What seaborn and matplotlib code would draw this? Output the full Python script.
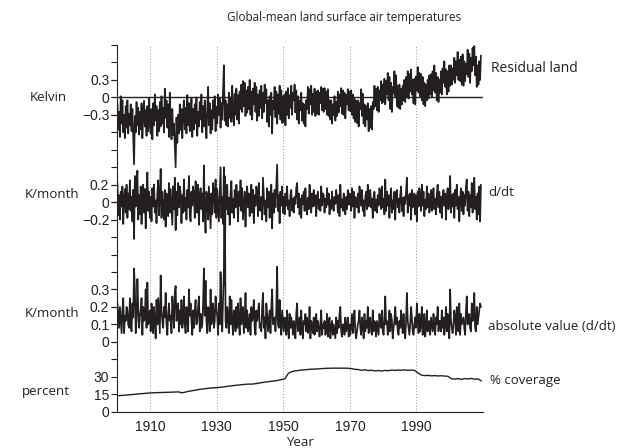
import numpy as np
import pandas as pd
import matplotlib
matplotlib.use("Agg")
import matplotlib.pyplot as plt
import seaborn as sns

# ---------------- data (quarterly samples) ----------------
# Residual land surface air temperature (Kelvin), 4 values per year from 1900
resid = [
    -0.10, -0.55, -0.25, -0.68, 0.02, -0.45, -0.05, -0.60, -0.30, -0.70, -0.15, -0.52, -0.05, -0.62, -0.28, -0.48, -0.12, -0.58, -0.20, -0.66,
    -1.15, -0.32, -0.60, -0.08, -0.48, -0.18, -0.64, -0.25, -0.55, -0.10, -0.70, -0.30, -0.06, -0.50, -0.22, -0.66, -0.15, -0.58, -0.02, -0.45,
    -0.62, -0.20, -0.72, -0.10, -0.48, 0.05, -0.40, -0.15, -0.66, -0.22, -0.58, -0.08, -0.50, 0.02, -0.45, -0.18, -0.60, 0.15, -0.35, -0.05,
    -0.52, -0.12, -0.68, 0.08, -0.38, -0.72, -0.20, -0.65, -0.45, -0.85, -1.20, -0.35, -0.78, -0.30, -0.62, -0.12, -0.56, -0.20, -0.70, -0.25,
    -0.05, -0.55, -0.18, -0.62, 0.04, -0.48, -0.10, -0.58, -0.40, -0.02, -0.68, -0.20, -0.55, -0.12, -0.45, 0.00, -0.66, -0.25, -0.50, -0.08,
    -0.38, 0.05, -0.60, -0.15, -0.50, -0.05, -0.42, -0.70, -0.20, 0.18, -0.48, -0.10, -0.62, -0.22, -0.55, -0.05, -0.35, 0.02, -0.58, -0.16,
    -0.45, 0.05, -0.30, -0.02, -0.52, -0.10, -0.38, 0.12, 0.55, -0.40, -0.05, -0.48, -0.12, -0.50, 0.08, -0.35, 0.00, -0.42, 0.20, -0.25,
    -0.48, 0.06, -0.30, 0.15, -0.38, 0.04, -0.45, 0.10, -0.20, 0.22, -0.25, 0.28, -0.15, 0.25, -0.32, 0.12, -0.26, 0.18, -0.20, 0.30,
    -0.30, 0.10, -0.38, 0.15, -0.12, 0.25, -0.25, 0.18, -0.40, 0.05, -0.32, 0.12, -0.18, 0.20, -0.36, 0.08, -0.25, 0.22, -0.10, 0.14,
    -0.42, -0.05, -0.50, 0.02, -0.30, 0.08, -0.62, -0.06, -0.20, 0.18, -0.34, 0.10, -0.45, 0.05, -0.28, 0.20, -0.38, 0.12, -0.44, 0.02,
    -0.42, 0.05, -0.48, 0.10, -0.30, 0.16, -0.36, 0.04, -0.18, 0.20, -0.30, 0.08, -0.05, 0.22, -0.26, 0.12, -0.38, 0.02, -0.45, -0.05,
    -0.22, 0.08, -0.40, -0.10, -0.45, -0.12, -0.50, -0.05, -0.20, 0.18, -0.28, 0.14, -0.12, 0.20, -0.30, 0.06, -0.25, 0.15, -0.32, 0.10,
    -0.28, 0.12, -0.30, 0.08, -0.10, 0.18, -0.22, 0.15, -0.25, 0.16, -0.20, 0.10, -0.30, 0.14, -0.32, -0.05, -0.38, -0.05, -0.45, -0.12,
    -0.30, 0.02, -0.40, -0.08, -0.32, 0.10, -0.26, 0.05, -0.15, 0.16, -0.28, 0.12, -0.30, 0.08, -0.36, 0.04, -0.12, 0.14, -0.22, 0.10,
    -0.24, 0.12, -0.30, 0.05, -0.36, -0.02, -0.42, -0.06, -0.44, -0.05, -0.50, -0.10, -0.20, 0.14, -0.32, 0.06, -0.45, -0.12, -0.50, -0.15,
    -0.38, -0.10, -0.58, -0.20, -0.52, -0.15, -0.55, -0.08, -0.20, 0.20, -0.15, 0.15, -0.22, 0.18, -0.25, 0.12, -0.05, 0.28, -0.10, 0.22,
    -0.08, 0.32, -0.12, 0.28, 0.05, 0.42, -0.05, 0.35, -0.20, 0.25, -0.25, 0.18, 0.08, 0.45, 0.02, 0.38, -0.15, 0.20, -0.18, 0.22,
    -0.20, 0.15, -0.12, 0.20, -0.05, 0.30, -0.08, 0.35, 0.02, 0.45, -0.02, 0.40, 0.10, 0.48, 0.05, 0.30, -0.10, 0.32, -0.12, 0.36,
    0.12, 0.52, 0.08, 0.42, 0.02, 0.40, -0.05, 0.35, -0.12, 0.25, -0.15, 0.22, -0.05, 0.30, -0.02, 0.38, 0.05, 0.40, 0.00, 0.45,
    0.12, 0.55, 0.08, 0.42, -0.05, 0.35, -0.08, 0.30, 0.08, 0.45, 0.05, 0.50, 0.25, 0.62, 0.18, 0.48, 0.05, 0.45, 0.10, 0.55,
    0.20, 0.55, 0.22, 0.50, 0.30, 0.68, 0.25, 0.62, 0.38, 0.78, 0.30, 0.65, 0.28, 0.70, 0.22, 0.74, 0.20, 0.62, 0.28, 0.58,
    0.40, 0.82, 0.35, 0.75, 0.25, 0.68, 0.45, 0.85, 0.55, 0.88, 0.38, 0.70, 0.18, 0.55, 0.22, 0.62, 0.30, 0.72,
]

# Time derivative (K/month), 4 values per year from 1900
ddt = [
    0.22, -0.15, 0.08, -0.20, 0.12, -0.05, 0.18, -0.25, 0.05, 0.15, -0.12, 0.20, -0.18, 0.10, -0.08, 0.25, -0.10, 0.06, -0.22, 0.14,
    -0.42, 0.30, -0.05, 0.12, 0.36, -0.20, 0.08, -0.14, 0.18, -0.25, 0.04, 0.20, -0.12, 0.15, -0.30, 0.08, 0.34, -0.10, 0.12, -0.18,
    0.06, -0.22, 0.16, -0.05, 0.20, -0.12, 0.02, -0.24, 0.10, 0.25, -0.15, 0.05, 0.38, -0.18, 0.12, -0.08, -0.20, 0.14, -0.28, 0.10,
    0.04, -0.16, 0.22, -0.12, 0.15, -0.05, -0.26, 0.18, -0.08, 0.28, -0.32, 0.12, -0.15, 0.22, -0.06, 0.18, 0.10, -0.24, 0.08, -0.12,
    0.26, -0.10, 0.05, -0.20, 0.14, -0.06, 0.30, -0.15, -0.22, 0.12, -0.04, 0.18, 0.08, -0.18, 0.24, -0.10, -0.12, 0.20, -0.26, 0.06,
    0.16, -0.08, 0.10, -0.22, 0.42, -0.15, -0.35, 0.12, 0.05, -0.20, 0.18, -0.06, -0.30, 0.10, -0.14, 0.22, 0.08, -0.12, 0.26, -0.18,
    0.15, -0.04, -0.22, 0.10, 0.40, -0.18, 0.06, -0.25, 0.40, -0.95, 0.12, -0.08, 0.20, -0.14, 0.05, -0.26, 0.10, 0.24, -0.12, 0.04,
    -0.18, 0.14, -0.06, 0.20, 0.08, -0.22, 0.12, -0.04, 0.25, -0.10, 0.16, -0.20, -0.05, 0.12, -0.28, 0.08, 0.18, -0.06, 0.10, -0.16,
    0.04, 0.20, -0.12, 0.14, -0.24, 0.08, -0.04, 0.18, 0.12, -0.16, 0.22, -0.08, -0.10, 0.06, -0.20, 0.28, 0.08, -0.14, 0.02, -0.22,
    0.16, -0.06, 0.12, -0.18, 0.05, 0.20, -0.30, 0.10, -0.12, 0.14, -0.06, 0.18, 0.43, -0.10, 0.08, -0.24, 0.12, -0.04, 0.18, -0.12,
    0.06, -0.14, 0.10, -0.04, 0.18, -0.08, 0.02, -0.16, 0.08, 0.14, -0.10, 0.04, -0.12, 0.06, -0.02, 0.16, 0.22, -0.06, 0.10, -0.14,
    0.04, -0.18, 0.08, -0.02, 0.12, -0.10, 0.16, -0.06, -0.14, 0.05, -0.08, 0.20, 0.02, -0.12, 0.10, -0.05, 0.14, -0.04, 0.08, -0.16,
    0.06, 0.12, -0.08, 0.03, -0.10, 0.18, -0.04, 0.10, 0.08, -0.12, 0.04, -0.06, 0.16, -0.03, 0.10, -0.14, 0.02, -0.08, 0.12, -0.04,
    -0.10, 0.06, -0.02, 0.14, 0.05, -0.12, 0.08, -0.16, 0.20, -0.06, 0.03, -0.10, 0.10, 0.04, -0.14, 0.06, -0.08, 0.14, -0.03, 0.10,
    0.04, -0.10, 0.16, -0.05, 0.12, -0.18, 0.06, -0.02, -0.06, 0.10, -0.12, 0.18, 0.08, -0.04, 0.14, -0.10, 0.02, -0.16, 0.06, 0.12,
    -0.08, 0.20, -0.05, 0.10, 0.14, -0.06, 0.04, -0.18, 0.06, 0.12, -0.10, 0.03, -0.12, 0.08, -0.04, 0.16, 0.10, -0.08, 0.18, -0.06,
    0.04, -0.14, 0.26, -0.10, 0.12, -0.04, 0.08, -0.18, 0.06, 0.16, -0.12, 0.02, -0.08, 0.12, -0.20, 0.10, 0.14, -0.06, 0.04, -0.12,
    0.08, 0.18, -0.10, 0.05, -0.16, 0.06, -0.02, 0.12, 0.28, -0.12, 0.08, -0.04, 0.10, -0.20, 0.14, -0.06, 0.04, 0.10, -0.14, 0.08,
    -0.22, 0.12, -0.05, 0.16, 0.06, -0.10, 0.20, -0.04, 0.12, -0.16, 0.03, -0.08, 0.18, -0.06, 0.10, -0.12, -0.04, 0.14, -0.10, 0.06,
    0.16, -0.08, 0.04, -0.14, 0.10, 0.20, -0.06, 0.12, -0.12, 0.06, -0.18, 0.08, 0.14, -0.04, 0.10, -0.20, 0.06, 0.16, -0.08, 0.02,
    0.30, -0.12, 0.08, -0.05, 0.10, -0.18, 0.14, -0.04, 0.20, -0.08, 0.06, -0.22, 0.04, 0.16, -0.10, 0.12, -0.14, 0.08, -0.04, 0.18,
    0.26, -0.10, 0.12, -0.16, 0.08, -0.06, 0.22, -0.12, 0.14, 0.28, -0.08, 0.06, -0.20, 0.10, -0.14, 0.18, -0.22, 0.20,
]

# Percent coverage, annual values
cov_years = list(range(1900, 2010))
cov_pct = [
    13.8, 14.0, 14.2, 14.5, 14.7, 15.0, 15.3, 15.5, 15.8, 16.0,
    16.2, 16.3, 16.4, 16.5, 16.6, 16.7, 16.8, 16.9, 17.0, 16.2,
    16.8, 17.5, 18.0, 18.5, 19.0, 19.4, 19.8, 20.1, 20.4, 20.6,
    20.8, 21.1, 21.5, 21.9, 22.3, 22.6, 22.9, 23.2, 23.5, 23.7,
    23.7, 24.0, 24.5, 25.0, 25.4, 25.8, 26.2, 26.5, 27.0, 27.6,
    28.4, 33.0, 34.4, 35.0, 35.4, 35.8, 36.0, 36.3, 36.5, 36.6,
    36.8, 37.0, 37.2, 37.3, 37.4, 37.4, 37.4, 37.4, 37.4, 37.3,
    37.0, 36.4, 36.2, 35.6, 36.0, 35.3, 35.7, 35.0, 35.4, 34.9,
    35.5, 35.2, 35.8, 35.4, 35.8, 35.6, 35.9, 35.5, 35.8, 35.4,
    33.2, 31.4, 31.0, 31.2, 30.8, 31.0, 30.7, 30.9, 30.6, 30.4,
    28.3, 28.0, 28.4, 27.8, 28.5, 28.1, 28.6, 27.9, 28.2, 26.5,
]

grid_years = [1910, 1930, 1950, 1970, 1990]

# ---------------- figure ----------------
sns.set_theme(style="white")
plt.rcParams['font.family'] = ['Liberation Sans', 'DejaVu Sans']
plt.rcParams['axes.unicode_minus'] = True

W, H = 628, 448
fig = plt.figure(figsize=(W / 100, H / 100), dpi=100)
fig.patch.set_facecolor("white")

x0, x1 = 117, 483
y_bot, y_top = 411.7, 45
rect = [x0 / W, 1 - y_bot / H, (x1 - x0) / W, (y_bot - y_top) / H]

ink = "#231f20"
lw = 1.25

df1 = pd.DataFrame({"year": 1900 + (np.arange(len(resid)) + 0.5) / 4, "value": resid})
df2 = pd.DataFrame({"year": 1900 + (np.arange(len(ddt)) + 0.5) / 4, "value": ddt})
df3 = df2.assign(value=np.abs(df2["value"]))
df4 = pd.DataFrame({"year": np.array(cov_years) + 0.5, "value": cov_pct})

ax4 = fig.add_axes(rect)
ax3 = fig.add_axes(rect, sharex=ax4)
ax2 = fig.add_axes(rect, sharex=ax4)
ax1 = fig.add_axes(rect, sharex=ax4)

ax4.set_xlim(1900, 2010)
ax4.set_ylim(0, 315)
ax3.set_ylim(-0.4, 1.7)
ax2.set_ylim(-2.4, 1.8)
ax1.set_ylim(-5.4, 0.9)

# dotted year grid
ax4.vlines(grid_years, 0, 315, colors="#999999", linestyles=(0, (1, 2)), linewidth=0.7, zorder=0)

sns.lineplot(data=df4, x="year", y="value", ax=ax4, color=ink, linewidth=1.0, estimator=None)
sns.lineplot(data=df3, x="year", y="value", ax=ax3, color=ink, linewidth=lw, estimator=None)
sns.lineplot(data=df2, x="year", y="value", ax=ax2, color=ink, linewidth=lw, estimator=None)
sns.lineplot(data=df1, x="year", y="value", ax=ax1, color=ink, linewidth=lw, estimator=None)
ax1.hlines(0, 1900, 2010, colors=ink, linewidth=1.0, zorder=5)

for ax in (ax1, ax2, ax3, ax4):
    ax.set_facecolor("none")
    ax.set_xlabel("")
    ax.set_ylabel("")
    ax.grid(False)
    for s in ("top", "right"):
        ax.spines[s].set_visible(False)
    ax.tick_params(axis="y", which="both", direction="out", length=4, width=0.8,
                   color=ink, labelsize=10, labelcolor=ink, pad=1.5, left=True)

for ax in (ax1, ax2, ax3):
    ax.spines["left"].set_visible(False)
    ax.spines["bottom"].set_visible(False)
    ax.tick_params(axis="x", which="both", bottom=False, labelbottom=False)

ax4.spines["left"].set_color(ink)
ax4.spines["bottom"].set_color(ink)
ax4.spines["left"].set_linewidth(0.8)
ax4.spines["bottom"].set_linewidth(0.8)

ax4.set_yticks(np.arange(0, 316, 15))
ax4.set_yticklabels(["0", "15", "30"] + [""] * 19)
ax3.set_yticks([0, 0.1, 0.2, 0.3])
ax3.set_yticklabels(["0", "0.1", "0.2", "0.3"])
ax2.set_yticks([-0.2, 0, 0.2])
ax2.set_yticklabels(["\u22120.2", "0", "0.2"])
ax1.set_yticks([-0.3, 0, 0.3])
ax1.set_yticklabels(["\u22120.3", "0", "0.3"])

ax4.set_xticks(grid_years)
ax4.set_xticklabels([str(y) for y in grid_years])
ax4.tick_params(axis="x", length=0, labelsize=10, labelcolor=ink, pad=6)

# ---------------- text ----------------
lab_font = ["Open Sans", "DejaVu Sans"]

def ftext(x, y, s, ha="left", size=9.5):
    fig.text(x / W, 1 - y / H, s, ha=ha, va="center", fontsize=size, color=ink, family=lab_font)

ftext(344, 18, "Global-mean land surface air temperatures", ha="center", size=8.4)
ftext(48, 97, "Kelvin", ha="center")
ftext(52, 194, "K/month", ha="center")
ftext(52, 313, "K/month", ha="center")
ftext(46, 391, "percent", ha="center")

ftext(491, 68, "Residual land", size=10)
ftext(488, 192, "d/dt")
ftext(488, 326, "absolute value (d/dt)")
ftext(490, 380, "% coverage")
ftext(300, 442, "Year", ha="center")

fig.savefig("out.png", dpi=100, facecolor="white")
